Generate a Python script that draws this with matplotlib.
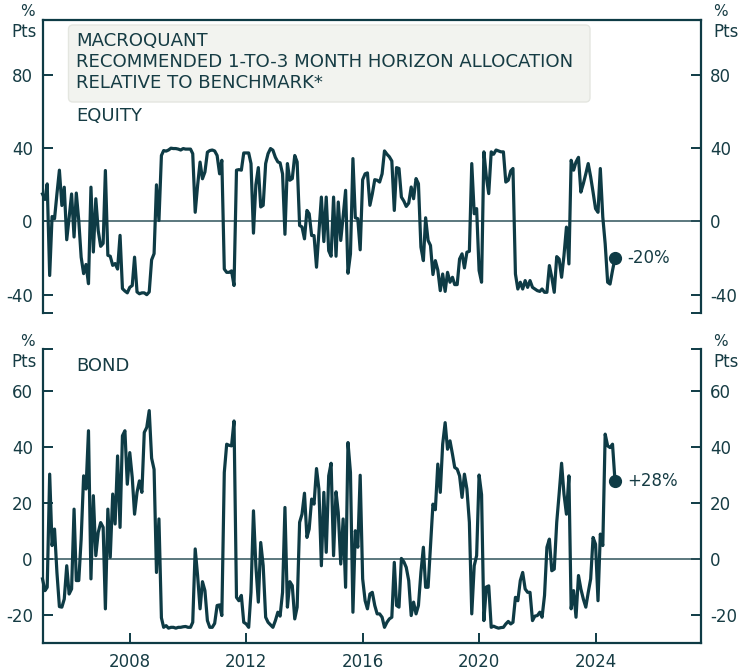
import matplotlib
matplotlib.use("Agg")
import matplotlib.pyplot as plt
import matplotlib.dates as mdates
from matplotlib.patches import FancyBboxPatch
import pandas as pd

# Monthly recommended allocation relative to benchmark, % pts (Jan 2005 - Sep 2024)
start_month = "2005-01-01"

equity = [
    15, 12, 20.5, -29.5, 2.7, 1.5, 15, 28, 8.7, 18.7,
    -10, 2, 15, -8.5, 15.5, 0.5, -19.5, -28.5, -23.5, -34,
    18.7, -16.7, 12.4, -5, -13.6, -12, 27.8, -18.5, -19, -24,
    -23, -26, -7.6, -36.7, -38, -39, -36, -35, -19.5, -38.5,
    -39.5, -39, -39, -40, -38.5, -21, -17.6, 20, 0.5, 36,
    38.7, 38.4, 39, 40, 39.8, 39.8, 39.5, 39, 39.8, 39.5,
    39.5, 39.5, 37, 5, 19.6, 32.4, 23.3, 27, 37.8, 38.7,
    39, 38.5, 36, 26, 33.4, -26, -27.8, -27.8, -27, -35,
    28, 28.3, 28, 37.4, 37.4, 37.4, 31.6, -6.4, 20, 29.4,
    7.9, 8.8, 31.6, 37, 39.8, 38.9, 35, 32.5, 32, 26,
    -7, 31.6, 22.5, 23.4, 36, 32.5, -2.2, -3, -9.5, 6,
    4.2, -7.7, -7.7, -25, -5.8, 13.3, -11, 13.3, -16, -19,
    13.3, -19, 10.6, -10.4, 2.7, 17, -28.3, -17.7, 34.3, 2,
    1.5, -15.5, 22.8, 26, 26.5, 8.8, 15, 22.8, 22.5, 21.5,
    26, 38.5, 36.7, 35.3, 33, 6, 29.4, 28.9, 13.3, 11.1,
    8.2, 10, 18.8, 12.4, 23.4, 20.6, -14, -21.4, 2, -10.4,
    -13.1, -29, -21.4, -26.5, -37.8, -28.7, -38.2, -27.8, -33.2, -30.5,
    -34.5, -34.5, -20.5, -17.7, -25.4, -16.8, -16.3, 31.6, 4.2, 7,
    -26.8, -33.2, 38, 24.3, 15.2, 38, 36.7, 39, 38.5, 38,
    38, 21.5, 22.5, 27.6, 28.9, -28.7, -36.9, -33.2, -36.9, -32.3,
    -36, -32.3, -36, -36.9, -37.8, -38.2, -36.9, -38.7, -38.7, -24.1,
    -30.5, -38.7, -19.2, -20.5, -30.5, -18.6, -3.1, -23.2, 33.4, 28,
    32.5, 35, 16, 20.6, 26, 31.6, 24.3, 16, 7, 5,
    28.9, 2.4, -12.2, -33.2, -34.2, -26.8, -20,
]

bond = [
    -7.1, -11.3, -10.1, 30.3, 4.8, 10.7, -4.8, -17, -17.2, -14.3,
    -2.4, -12.5, -10.7, 17.8, -7.7, -7.7, 7.1, 29.7, 25, 45.8,
    -7.1, 22.6, 1.2, 9.5, 13, 11.3, -17.8, 17.8, 0.6, 23.2,
    12.5, 36.8, 11.3, 44, 45.8, 26.7, 38, 29.1, 16, 23.8,
    27.9, 23.8, 45.2, 47, 53, 36, 32, -4.8, 14.3, -21,
    -24.4, -23.8, -24.7, -24.4, -24.4, -24.7, -24.4, -24.4, -24.2, -24.1,
    -24.4, -24.4, -22.6, 3.6, -5.9, -17.8, -8.1, -11.3, -22, -24.4,
    -24.4, -23, -16.6, -16.4, -20.2, 30.9, 41, 40.6, 40.4, 49.3,
    -13.7, -14.9, -13, -22.6, -23.2, -24.4, -11.9, 17.2, -2.4, -15.4,
    5.9, -2.4, -20.8, -22.6, -23.5, -24.4, -22, -19, -20.4, -11.9,
    18.4, -17.2, -8.1, -9.5, -21.4, -17.2, 13.1, 16, 23.5, 7.7,
    10.7, 21.4, 19.6, 32.3, 25, -2.4, 23.8, 2.4, 29.7, 34.2,
    1.2, 24, 16.6, -1.8, 14.3, -10.1, 41.6, 30.9, -19, 10.1,
    4.2, 29.9, -7.1, -14.9, -17.8, -12.5, -11.9, -16.6, -19.6, -19.6,
    -20.8, -24.4, -22.6, -21.4, -20.8, -1.2, -16.6, -17.2, 0.2, -1,
    -3, -7.7, -20.2, -15.4, -19.6, -16.6, -4.8, 4.2, -10.1, -10.1,
    4.2, 19.6, 17.6, 33.9, 23.8, 41, 48.7, 39.2, 42.2, 37.4,
    32.7, 32.1, 29.7, 22, 30.3, 25, 13.1, -19.6, -2.4, 1.2,
    30, 23, -22, -10, -9.6, -24.4, -24, -24.4, -24.7, -24.5,
    -24.4, -23.2, -22.3, -23.2, -22.6, -13.7, -14.9, -7.7, -4.8, -10.7,
    -11.9, -11.9, -22, -20.4, -20.2, -19, -20.8, -13, 4.2, 7.1,
    -4.2, -3.6, 13.1, 23.2, 34.2, 23.2, 16, 29.7, -17.8, -11.3,
    -20.8, -5.9, -10.7, -14.3, -17.2, -12, -7.1, 7.7, 5.3, -14.9,
    8.9, 4.8, 44.6, 40.4, 39.8, 41, 28,
]

equity_ticks = [-40, 0, 40, 80]
bond_ticks = [-20, 0, 20, 40, 60]

title_lines = ["MACROQUANT",
               "RECOMMENDED 1-TO-3 MONTH HORIZON ALLOCATION",
               "RELATIVE TO BENCHMARK*"]

dates = pd.date_range(start_month, periods=len(equity), freq="MS")

INK = "#0e3b45"
TXT = "#163c44"
plt.rcParams["font.family"] = ["DejaVu Sans"]
plt.rcParams["axes.unicode_minus"] = False

W, H = 744, 671
fig = plt.figure(figsize=(W / 100, H / 100), dpi=100)


def rect(l, t, r, b):
    return [l / W, 1 - b / H, (r - l) / W, (b - t) / H]


def fx(x):
    return x / W


def fy(y):
    return 1 - y / H


ax1 = fig.add_axes(rect(42.5, 20, 700.5, 313))
ax2 = fig.add_axes(rect(42.5, 349, 700.5, 643))

xlim = (pd.Timestamp("2005-01-01"), pd.Timestamp("2027-08-10"))
TICK_FS = 12

for ax, series, ticks, ylim, endtick, show_top in (
    (ax1, equity, equity_ticks, (-50, 110), -50, True),
    (ax2, bond, bond_ticks, (-30, 75), 75, False),
):
    ax.plot(dates, series, color=INK, lw=2.3, solid_joinstyle="round",
            zorder=3, clip_on=False)
    ax.axhline(0, color="#2f535b", lw=1.1, zorder=2)
    ax.set_xlim(*xlim)
    ax.set_ylim(*ylim)
    ax.set_yticks(ticks)
    ax.set_yticks([endtick], minor=True)
    ax.set_yticklabels([str(t) for t in ticks])
    for side in ("left", "right", "top", "bottom"):
        ax.spines[side].set_color(INK)
        ax.spines[side].set_linewidth(1.6)
    ax.spines["top"].set_visible(show_top)
    ax.spines["bottom"].set_visible(not show_top)
    ax.tick_params(axis="y", which="both", direction="in", length=7.5,
                   width=1.4, color=INK, left=True, right=True,
                   labelleft=True, labelright=True, labelsize=TICK_FS,
                   labelcolor=TXT, pad=7)
    ax.tick_params(axis="y", which="minor", labelleft=False, labelright=False)

ax1.tick_params(axis="x", which="both", bottom=False, labelbottom=False)
ax2.xaxis.set_major_locator(mdates.YearLocator(4))
ax2.xaxis.set_major_formatter(mdates.DateFormatter("%Y"))
ax2.xaxis.set_minor_locator(mdates.YearLocator(100))
ax2.tick_params(axis="x", which="major", direction="in", length=7.5,
                width=1.4, color=INK, labelsize=TICK_FS, labelcolor=TXT,
                pad=7)

# end-of-series markers and value labels
for ax, series, label in ((ax1, equity, "-20%"), (ax2, bond, "+28%")):
    ax.plot(dates[-1], series[-1], "o", ms=8.5, color=INK, zorder=4,
            clip_on=False)
    ax.annotate(label, (dates[-1], series[-1]), xytext=(9, 0),
                textcoords="offset points", va="center", ha="left",
                fontsize=TICK_FS, color=TXT)

# unit labels above each axis
for ytop in (12, 342):
    fig.text(fx(27), fy(ytop), "%", ha="center", va="center",
             fontsize=11, color=TXT)
    fig.text(fx(24), fy(ytop + 20), "Pts", ha="center", va="center",
             fontsize=12, color=TXT)
    fig.text(fx(713), fy(ytop), "%", ha="left", va="center",
             fontsize=11, color=TXT)
    fig.text(fx(713), fy(ytop + 20), "Pts", ha="left", va="center",
             fontsize=12, color=TXT)

# title box
box = FancyBboxPatch((fx(68.5), fy(102)), fx(590) - fx(68.5),
                     fy(25) - fy(102),
                     boxstyle="round,pad=0,rounding_size=0.006",
                     mutation_aspect=W / H,
                     transform=fig.transFigure, facecolor="#f2f3ef",
                     edgecolor="#e4e6e0", lw=1.0, zorder=1)
fig.patches.append(box)
for i, line in enumerate(title_lines):
    fig.text(fx(76), fy(41 + 21 * i), line, ha="left", va="center",
             fontsize=13.1, color=TXT, zorder=3)

fig.text(fx(76), fy(116), "EQUITY", ha="left", va="center",
         fontsize=13, color=TXT)
fig.text(fx(76), fy(366), "BOND", ha="left", va="center",
         fontsize=13, color=TXT)

fig.savefig("out.png", dpi=100, facecolor="white")
